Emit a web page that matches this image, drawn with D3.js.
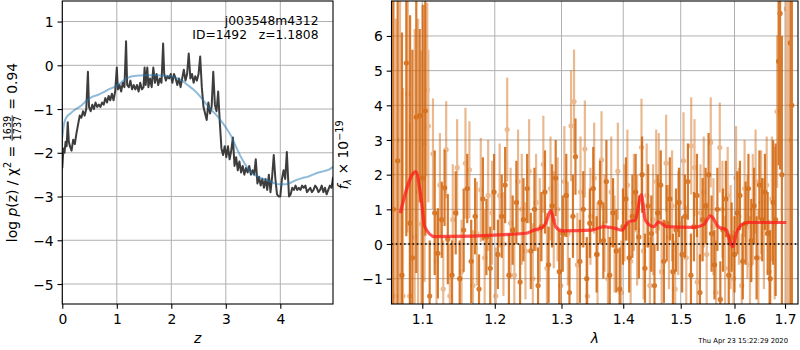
<!DOCTYPE html>
<html>
<head>
<meta charset="utf-8">
<script src="https://cdn.jsdelivr.net/npm/d3@7"></script>
<style>
  body { margin: 0; background: #fff; }
  svg { display: block; font-family: "DejaVu Sans", sans-serif; }
</style>
</head>
<body>
<script>
/* ---- left panel: log p(z) ---- */
var zGrid = [0.00,0.02,0.04,0.06,0.08,0.10,0.12,0.14,0.17,0.20,
  0.23,0.26,0.29,0.32,0.35,0.38,0.41,0.44,0.47,0.49,
  0.52,0.55,0.58,0.61,0.64,0.67,0.70,0.73,0.76,0.79,
  0.82,0.85,0.88,0.91,0.94,0.97,1.00,1.02,1.05,1.08,
  1.11,1.14,1.17,1.19,1.22,1.25,1.28,1.31,1.34,1.37,
  1.40,1.43,1.46,1.49,1.51,1.53,1.56,1.58,1.61,1.64,
  1.67,1.70,1.73,1.76,1.79,1.82,1.85,1.87,1.90,1.93,
  1.96,1.99,2.02,2.05,2.08,2.11,2.14,2.17,2.20,2.23,
  2.26,2.29,2.32,2.35,2.38,2.41,2.44,2.47,2.50,2.53,
  2.56,2.59,2.62,2.65,2.68,2.71,2.74,2.77,2.80,2.83,
  2.86,2.89,2.92,2.95,2.98,3.01,3.04,3.07,3.10,3.13,
  3.16,3.19,3.22,3.25,3.28,3.31,3.34,3.37,3.40,3.43,
  3.46,3.49,3.52,3.55,3.58,3.61,3.64,3.67,3.70,3.73,
  3.76,3.79,3.82,3.85,3.88,3.91,3.94,3.97,4.00,4.03,
  4.06,4.09,4.12,4.14,4.16,4.19,4.22,4.25,4.28,4.31,
  4.34,4.37,4.40,4.43,4.46,4.49,4.52,4.55,4.58,4.61,
  4.64,4.67,4.70,4.73,4.76,4.79,4.82,4.85,4.88,4.91,
  4.94,4.97]
var logpZ = [-2.35,-1.9,-2.0,-1.75,-1.85,-1.3,-1.75,-1.85,-1.95,-1.7,
  -1.8,-1.55,-1.35,-1.15,-1.2,-1.05,-1.15,-1.0,-0.15,-0.95,
  -1.05,-0.9,-1.0,-0.85,-0.95,-0.9,-0.95,-0.85,-0.9,-0.75,
  -0.85,-0.7,-0.8,-0.65,-0.8,-0.6,-0.05,-0.55,-0.45,-0.6,
  -0.4,-0.5,0.55,-0.45,-0.5,-0.35,-0.55,-0.45,-0.55,-0.45,
  -0.6,-0.4,-0.55,-0.5,-0.05,-0.45,-0.05,-0.5,-0.3,-0.5,
  -0.05,-0.4,-0.2,-0.45,-0.3,-0.4,0.5,-0.2,-0.35,-0.25,
  -0.3,-0.2,-0.4,-0.2,-0.3,-0.45,-0.3,-0.5,-0.3,-0.1,
  -0.35,-0.2,0.27,-0.3,-0.2,-0.4,-0.25,-0.35,-0.2,0.2,
  -0.5,-0.95,-1.1,-1.25,-0.85,-1.1,-0.95,-0.15,-0.9,-1.05,
  -0.6,-1.3,-1.9,-2.05,-1.85,-2.1,-1.85,-2.15,-1.95,-1.65,
  -2.3,-2.1,-2.4,-2.2,-2.45,-2.3,-2.5,-2.35,-2.45,-2.3,
  -2.5,-2.4,-2.5,-2.15,-2.7,-2.55,-2.75,-2.6,-2.8,-2.6,
  -2.85,-2.5,-2.9,-2.55,-2.05,-2.6,-2.95,-3.0,-3.0,-2.6,
  -2.4,-2.6,-1.98,-2.5,-3.0,-2.95,-2.8,-2.85,-2.75,-2.85,
  -2.8,-2.85,-2.75,-2.8,-2.75,-2.9,-2.85,-2.8,-2.9,-2.85,
  -2.75,-2.8,-2.9,-2.85,-2.75,-2.9,-2.8,-2.95,-2.85,-2.75,
  -2.8,-2.55]
var zFit = [0.00,0.03,0.07,0.15,0.25,0.35,0.45,0.55,0.65,0.75,0.85,0.95,1.05,1.15,1.25,1.35,1.50,
  1.70,1.90,2.05,2.20,2.30,2.40,2.50,2.60,2.70,2.80,2.90,3.00,3.10,3.20,3.30,3.40,
  3.50,3.60,3.70,3.80,3.90,4.00,4.10,4.20,4.30,4.40,4.50,4.60,4.70,4.80,4.90,4.97]
var logpFit = [-1.65,-1.35,-1.2,-1.1,-1.0,-0.92,-0.8,-0.72,-0.68,-0.62,-0.55,-0.5,-0.42,-0.32,-0.26,-0.24,-0.23,
  -0.23,-0.24,-0.27,-0.35,-0.45,-0.55,-0.67,-0.82,-0.98,-1.1,-1.25,-1.42,-1.62,-1.9,-2.15,-2.35,
  -2.48,-2.55,-2.6,-2.65,-2.7,-2.72,-2.72,-2.68,-2.62,-2.58,-2.55,-2.5,-2.45,-2.42,-2.38,-2.32]
var zTicks = [0, 1, 2, 3, 4]
var logpTicks = [-5, -4, -3, -2, -1, 0, 1]

/* ---- right panel: spectrum [lambda, flux, err] ---- */
var darkBars = [
  [1.0625,1.0,9],[1.0680,2.4,8],[1.0735,-0.9,7],[1.0791,5.22,5],[1.0840,0.6,6],[1.0870,-0.4,6],
  [1.0921,3.66,4.5],[1.0966,3.70,2.5],[1.1005,1.9,5],[1.1040,3.84,3.6],[1.1098,-1.5,1.6],[1.1165,0.9,1.8],
  [1.1208,-0.27,1.3],[1.1260,0.7,1.1],[1.1298,1.62,1.1],[1.1342,0.14,1.3],[1.1400,-0.9,1.0],[1.1450,0.9,1.2],
  [1.1505,-1.0,1.1],[1.1560,0.4,1.2],[1.1610,1.6,1.0],[1.1665,-0.5,1.2],[1.1720,0.8,1.1],[1.1775,-1.3,1.0],
  [1.1830,1.3,1.2],[1.1880,0.2,1.1],[1.1935,-0.7,1.2],[1.1990,1.5,1.1],[1.2045,-0.3,1.0],[1.2100,0.8,1.2],
  [1.2150,1.7,1.1],[1.2205,-0.9,1.2],[1.2260,0.4,1.0],[1.2315,1.2,1.2],[1.2370,-1.1,1.1],[1.2420,0.7,1.2],
  [1.2475,1.6,1.0],[1.2530,-0.2,1.1],[1.2585,1.0,1.2],[1.2640,-1.2,1.1],[1.2690,0.5,1.0],[1.2745,1.5,1.2],
  [1.2800,-0.6,1.1],[1.2855,1.1,1.2],[1.2910,1.9,1.1],[1.2965,-0.8,1.2],[1.3020,0.3,1.1],[1.3075,1.4,1.2],
  [1.3125,-1.4,1.0],[1.3180,0.8,1.2],[1.3220,2.52,1.1],[1.3290,-0.5,1.2],[1.3345,1.0,1.1],[1.3400,-1.0,1.2],
  [1.3450,0.6,1.0],[1.3505,1.6,1.2],[1.3560,-0.3,1.1],[1.3615,1.2,1.2],[1.3670,0.1,1.1],[1.3720,1.8,1.2],
  [1.3775,-0.9,1.1],[1.3830,0.9,1.0],[1.3885,-0.2,1.2],[1.3940,-1.3,1.2],[1.3995,0.5,1.1],[1.4045,1.3,1.2],
  [1.4100,-0.4,1.0],[1.4155,0.8,1.2],[1.4210,1.5,1.1],[1.4265,0.2,1.2],[1.4320,2.0,1.1],[1.4370,-0.7,1.0],
  [1.4425,1.1,1.2],[1.4480,0.3,1.1],[1.4535,-1.2,1.2],[1.4590,0.9,1.1],[1.4645,1.7,1.0],[1.4700,-0.5,1.2],
  [1.4750,0.6,1.1],[1.4805,1.3,1.2],[1.4860,-0.8,1.1],[1.4915,0.4,1.2],[1.4970,1.2,1.0],[1.5025,-0.3,1.1],
  [1.5075,0.8,1.2],[1.5130,1.8,1.1],[1.5185,-0.9,1.2],[1.5240,0.5,1.0],[1.5295,1.4,1.2],[1.5350,-1.4,1.1],
  [1.5400,0.7,1.2],[1.5455,1.1,1.1],[1.5510,2.0,1.2],[1.5565,0.3,1.1],[1.5620,-0.6,1.0],[1.5675,1.0,1.2],
  [1.5730,-1.6,1.1],[1.5780,0.4,1.2],[1.5835,1.3,1.1],[1.5890,-0.9,1.2],[1.5945,0.2,1.0],[1.6000,-0.3,1.1],
  [1.6055,0.9,1.2],[1.6105,1.4,1.0],[1.6160,-0.5,1.1],[1.6215,0.6,1.2],[1.6270,1.6,1.0],[1.6325,0.1,1.2],
  [1.6380,1.1,1.1],[1.6430,-0.4,1.2],[1.6485,1.7,1.0],[1.6540,0.7,1.2],[1.6595,1.5,1.1],[1.6650,0.3,1.2],
  [1.6700,-1.0,1.4],[1.6760,1.2,1.8],[1.6810,0.7,2.2],[1.6870,5.27,3],[1.6900,6.65,4.5],[1.6936,2.0,4],
  [1.7110,5.8,9],[1.7140,4.0,9]
]
var lightBars = [
  [1.0605,2.0,9],[1.0655,-1.5,8],[1.0710,3.0,7],[1.0748,-1.5,6],[1.0810,4.33,4],[1.0835,-1.5,5],
  [1.0900,0.2,6],[1.0945,1.5,5],[1.0987,0.58,5],[1.1030,2.9,4],[1.1066,4.45,2.5],[1.1080,3.40,2.2],
  [1.1142,2.6,1.6],[1.1190,-0.5,1.4],[1.1235,1.7,1.5],[1.1280,-1.3,1.4],[1.1320,2.72,1.4],[1.1370,-1.5,1.5],
  [1.1410,0.7,1.6],[1.1470,2.2,1.4],[1.1530,-0.8,1.5],[1.1585,2.33,1.6],[1.1640,2.14,1.4],[1.1690,-1.2,1.6],
  [1.1745,0.3,1.5],[1.1800,1.56,1.5],[1.1855,-0.4,1.4],[1.1905,1.4,1.6],[1.1960,0.9,1.5],[1.2015,-1.5,1.4],
  [1.2070,1.4,1.5],[1.2125,0.0,1.5],[1.2180,3.3,1.5],[1.2230,0.6,1.6],[1.2285,-0.9,1.4],[1.2340,1.8,1.5],
  [1.2395,1.0,1.6],[1.2450,-0.2,1.4],[1.2505,2.1,1.5],[1.2560,-1.0,1.6],[1.2610,1.2,1.4],[1.2665,0.4,1.5],
  [1.2720,2.3,1.4],[1.2775,-0.7,1.6],[1.2830,1.6,1.5],[1.2880,0.7,1.4],[1.2940,1.0,1.5],[1.2990,-1.2,1.4],
  [1.3045,1.8,1.6],[1.3100,0.3,1.5],[1.3150,3.41,1.6],[1.3197,4.11,1.5],[1.3250,-0.6,1.5],[1.3300,1.5,1.6],
  [1.3370,2.74,1.4],[1.3410,-1.5,1.5],[1.3460,0.8,1.4],[1.3520,1.9,1.6],[1.3575,-0.3,1.5],[1.3640,2.43,1.4],
  [1.3690,0.6,1.4],[1.3745,-1.0,1.5],[1.3800,1.5,1.6],[1.3855,0.0,1.4],[1.3910,2.1,1.4],[1.3965,-1.4,1.5],
  [1.4020,0.9,1.4],[1.4070,1.7,1.6],[1.4125,-0.5,1.5],[1.4180,1.2,1.4],[1.4235,0.4,1.6],[1.4310,2.79,1.4],
  [1.4345,-0.2,1.4],[1.4400,1.4,1.5],[1.4455,-1.2,1.4],[1.4510,0.7,1.6],[1.4565,1.8,1.5],[1.4610,1.8,1.4],
  [1.4660,-0.8,1.5],[1.4740,2.33,1.4],[1.4790,0.2,1.5],[1.4845,1.1,1.6],[1.4900,-1.3,1.4],[1.4955,0.6,1.5],
  [1.5050,2.4,1.4],[1.5100,-0.4,1.5],[1.5190,2.83,1.4],[1.5250,2.2,1.4],[1.5300,-1.1,1.5],[1.5360,0.9,1.4],
  [1.5420,1.5,1.6],[1.5475,-0.3,1.5],[1.5550,2.93,1.3],[1.5600,0.5,1.4],[1.5650,-1.4,1.5],[1.5720,2.78,1.3],
  [1.5770,1.0,1.4],[1.5820,-0.7,1.5],[1.5870,1.4,1.4],[1.5925,0.2,1.5],[1.5980,-1.0,1.4],[1.6030,1.9,1.5],
  [1.6085,0.8,1.4],[1.6140,-1.2,1.5],[1.6195,1.6,1.4],[1.6250,0.5,1.5],[1.6300,-0.6,1.4],[1.6355,1.0,1.6],
  [1.6410,1.8,1.5],[1.6465,-0.4,1.4],[1.6520,1.2,1.5],[1.6575,0.3,1.6],[1.6630,1.7,1.4],[1.6680,-0.8,1.5],
  [1.6735,1.3,1.8],[1.6790,0.6,2.2],[1.6840,3.82,2.2],[1.7027,6.78,9],[1.7060,3.0,9]
]
var lamModel = [1.0713,1.0913,1.0987,1.1032,1.1165,1.2458,1.2578,1.2704,1.2756,1.2833,1.2910,1.3013,
  1.3485,1.3675,1.3867,1.3979,1.4092,1.4204,1.4307,1.4376,1.4521,1.4609,1.4750,1.5228,1.5412,
  1.5549,1.5692,1.5851,1.5876,1.5971,1.6035,1.6164,1.6261,1.7027]
var fluxModel = [0.89,2.09,1.27,0.50,0.21,0.31,0.40,0.48,0.60,0.96,0.50,0.38,
  0.40,0.50,0.45,0.40,0.64,0.69,1.42,0.69,0.50,0.64,0.50,0.48,0.55,
  0.81,0.50,0.40,0.26,-0.08,0.31,0.58,0.62,0.62]
var lamTicks = [1.1, 1.2, 1.3, 1.4, 1.5, 1.6, 1.7]
var fluxTicks = [-1, 0, 1, 2, 3, 4, 5, 6]

/* ---- layout ---- */
var svg = d3.select("body").append("svg").attr("width", 800).attr("height", 350)

var L = {x0: 62.3, x1: 333, y0: 1, y1: 304}
var R = {x0: 391.5, x1: 798, y0: 1, y1: 304}

var xZ = d3.scaleLinear().domain([0, 4.967]).range([L.x0, L.x1])
var yP = d3.scaleLinear().domain([-5.457, 1.47]).range([L.y1, L.y0])
var xLam = d3.scaleLog().domain([1.0601, 1.7267]).range([R.x0, R.x1])
var yF = d3.scaleLinear().domain([-1.731, 7.009]).range([R.y1, R.y0])

var defs = svg.append("defs")
defs.append("clipPath").attr("id", "clipL").append("rect")
  .attr("x", L.x0).attr("y", L.y0).attr("width", L.x1 - L.x0).attr("height", L.y1 - L.y0)
defs.append("clipPath").attr("id", "clipR").append("rect")
  .attr("x", R.x0).attr("y", R.y0).attr("width", R.x1 - R.x0).attr("height", R.y1 - R.y0)

function grid(box, xs, xv, ys, yv) {
  var g = svg.append("g").attr("stroke", "#b0b0b0").attr("stroke-width", 1)
  g.selectAll(".gx").data(xv).enter().append("line")
    .attr("x1", function(d) {return xs(d)}).attr("x2", function(d) {return xs(d)})
    .attr("y1", box.y0).attr("y2", box.y1)
  g.selectAll(".gy").data(yv).enter().append("line")
    .attr("y1", function(d) {return ys(d)}).attr("y2", function(d) {return ys(d)})
    .attr("x1", box.x0).attr("x2", box.x1)
}

function axes(box, xs, xv, ys, yv, fmtX) {
  var ax = svg.append("g").attr("transform", "translate(0," + box.y1 + ")")
    .call(d3.axisBottom(xs).tickValues(xv).tickSize(4.8).tickPadding(5.8).tickFormat(fmtX))
  var ay = svg.append("g").attr("transform", "translate(" + box.x0 + ",0)")
    .call(d3.axisLeft(ys).tickValues(yv).tickSize(4.8).tickPadding(3.9).tickFormat(d3.format("d")))
  ;[ax, ay].forEach(function(a) {
    a.select(".domain").remove()
    a.selectAll("line").attr("stroke", "#000").attr("stroke-width", 1.1)
    a.selectAll("text").attr("font-size", "13.9px").attr("fill", "#000")
      .attr("font-family", "DejaVu Sans")
  })
  ay.selectAll("text").attr("dy", "0.36em")
  svg.append("rect").attr("x", box.x0).attr("y", box.y0)
    .attr("width", box.x1 - box.x0).attr("height", box.y1 - box.y0)
    .attr("fill", "none").attr("stroke", "#000").attr("stroke-width", 1.1)
}

/* ---- left panel ---- */
grid(L, xZ, zTicks, yP, logpTicks)

var pl = svg.append("g").attr("clip-path", "url(#clipL)")
pl.append("path").datum(d3.zip(zGrid, logpZ))
  .attr("d", d3.line().x(function(d) {return xZ(d[0])}).y(function(d) {return yP(d[1])}))
  .attr("fill", "none").attr("stroke", "#333").attr("stroke-opacity", 0.95)
  .attr("stroke-width", 2).attr("stroke-linejoin", "round")
pl.append("path").datum(d3.zip(zFit, logpFit))
  .attr("d", d3.line().curve(d3.curveMonotoneX).x(function(d) {return xZ(d[0])}).y(function(d) {return yP(d[1])}))
  .attr("fill", "none").attr("stroke", "#1f77b4").attr("stroke-opacity", 0.5)
  .attr("stroke-width", 2)

axes(L, xZ, zTicks, yP, logpTicks, d3.format("d"))

svg.append("text").attr("x", 318.5).attr("y", 24.5).attr("text-anchor", "end")
  .attr("font-size", "12.3px").text("j003548m4312")
svg.append("text").attr("x", 318.5).attr("y", 39).attr("text-anchor", "end")
  .attr("font-size", "12.3px").style("white-space", "pre").text("ID=1492   z=1.1808")

svg.append("text").attr("x", (L.x0 + L.x1) / 2).attr("y", 343).attr("text-anchor", "middle")
  .attr("font-size", "13.9px").attr("font-style", "italic").text("z")

// y label with stacked fraction
var yl = svg.append("g").attr("transform", "translate(16.5," + ((L.y0 + L.y1) / 2) + ") rotate(-90)")
var inner = yl.append("g")
var t1 = inner.append("text").attr("font-size", "13.9px").style("white-space", "pre")
t1.append("tspan").text("log ")
t1.append("tspan").attr("font-style", "italic").text("p")
t1.append("tspan").text("(z) / \u03c7")
t1.append("tspan").attr("font-size", "9.7px").attr("dy", -5.5).text("2")
t1.append("tspan").attr("dy", 5.5).text(" = ")
var w1 = t1.node().getComputedTextLength()
var num = inner.append("text").attr("font-size", "9.7px").attr("y", -6).text("1639")
var den = inner.append("text").attr("font-size", "9.7px").attr("y", 4).text("1737")
var wf = Math.max(num.node().getComputedTextLength(), den.node().getComputedTextLength())
num.attr("x", w1 + 1); den.attr("x", w1 + 1)
inner.append("line").attr("x1", w1 + 0.5).attr("x2", w1 + wf + 1.5).attr("y1", -4.3).attr("y2", -4.3)
  .attr("stroke", "#000").attr("stroke-width", 0.8)
var t3 = inner.append("text").attr("font-size", "13.9px").attr("x", w1 + wf + 2.5)
  .style("white-space", "pre").text(" = 0.94")
var wTot = w1 + wf + 2.5 + t3.node().getComputedTextLength()
inner.attr("transform", "translate(" + (-wTot / 2) + ",0)")

/* ---- right panel ---- */
grid(R, xLam, lamTicks, yF, fluxTicks)

var orange = "#d2640a"
var pr = svg.append("g").attr("clip-path", "url(#clipR)")

function drawBars(data, op) {
  var g = pr.append("g").attr("opacity", op)
  g.selectAll("line").data(data).enter().append("line")
    .attr("x1", function(d) {return xLam(d[0])}).attr("x2", function(d) {return xLam(d[0])})
    .attr("y1", function(d) {return yF(d[1] - d[2])}).attr("y2", function(d) {return yF(d[1] + d[2])})
    .attr("stroke", orange).attr("stroke-width", 2.2)
  g.selectAll("circle").data(data).enter().append("circle")
    .attr("cx", function(d) {return xLam(d[0])}).attr("cy", function(d) {return yF(d[1])})
    .attr("r", 2.6).attr("fill", orange)
}
drawBars(lightBars, 0.45)
drawBars(darkBars, 0.85)

pr.append("path").datum(d3.zip(lamModel, fluxModel))
  .attr("d", d3.line().curve(d3.curveMonotoneX).x(function(d) {return xLam(d[0])}).y(function(d) {return yF(d[1])}))
  .attr("fill", "none").attr("stroke", "#ff1a1a").attr("stroke-opacity", 0.75)
  .attr("stroke-width", 3.2).attr("stroke-linejoin", "round")

pr.append("line").attr("x1", R.x0).attr("x2", R.x1).attr("y1", yF(0)).attr("y2", yF(0))
  .attr("stroke", "#000").attr("stroke-width", 1.6).attr("stroke-dasharray", "1.6,2.6")

axes(R, xLam, lamTicks, yF, fluxTicks, d3.format(".1f"))

svg.append("text").attr("x", (R.x0 + R.x1) / 2).attr("y", 343).attr("text-anchor", "middle")
  .attr("font-size", "13.9px").attr("font-style", "italic").text("\u03bb")

var yr = svg.append("text").attr("transform", "translate(348,155) rotate(-90)")
  .attr("text-anchor", "middle").attr("font-size", "13.9px").style("white-space", "pre")
yr.append("tspan").attr("font-style", "italic").text("f")
yr.append("tspan").attr("font-size", "9.7px").attr("font-style", "italic").attr("dy", 3).text("\u03bb")
yr.append("tspan").attr("dy", -3).text(" \u00d7 10")
yr.append("tspan").attr("font-size", "9.7px").attr("dy", -5.5).text("\u221219")

svg.append("text").attr("x", 788).attr("y", 343).attr("text-anchor", "end")
  .attr("font-size", "6.8px").text("Thu Apr 23 15:22:29 2020")
</script>
</body>
</html>
